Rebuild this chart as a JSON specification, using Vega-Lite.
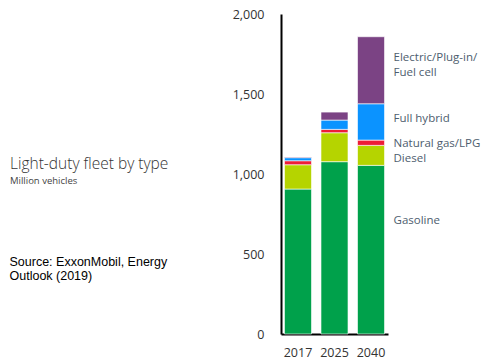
{
  "$schema": "https://vega.github.io/schema/vega-lite/v6.json",
  "width": 107,
  "height": 320,
  "autosize": {"type": "none"},
  "padding": {"left": 281, "top": 14, "right": 101, "bottom": 26},
  "background": "white",
  "config": {"view": {"stroke": null}, "font": "Open Sans"},
  "title": {
    "text": "Light-duty fleet by type",
    "subtitle": "Million vehicles",
    "anchor": "start",
    "frame": "group",
    "orient": "top",
    "dx": -271,
    "dy": 181,
    "font": "Open Sans",
    "fontSize": 15.5,
    "fontWeight": 300,
    "color": "#333333",
    "subtitleFont": "Open Sans",
    "subtitleFontSize": 9.5,
    "subtitleColor": "#444444",
    "subtitlePadding": 3
  },
  "data": {
    "values": [
      {"year": "2017", "type": "Gasoline", "value": 906},
      {"year": "2017", "type": "Diesel", "value": 152},
      {"year": "2017", "type": "Natural gas/LPG", "value": 25},
      {"year": "2017", "type": "Full hybrid", "value": 19},
      {"year": "2017", "type": "Electric/Plug-in/Fuel cell", "value": 4},
      {"year": "2025", "type": "Gasoline", "value": 1077},
      {"year": "2025", "type": "Diesel", "value": 181},
      {"year": "2025", "type": "Natural gas/LPG", "value": 21},
      {"year": "2025", "type": "Full hybrid", "value": 58},
      {"year": "2025", "type": "Electric/Plug-in/Fuel cell", "value": 50},
      {"year": "2040", "type": "Gasoline", "value": 1054},
      {"year": "2040", "type": "Diesel", "value": 125},
      {"year": "2040", "type": "Natural gas/LPG", "value": 33},
      {"year": "2040", "type": "Full hybrid", "value": 227},
      {"year": "2040", "type": "Electric/Plug-in/Fuel cell", "value": 419}
    ]
  },
  "transform": [
    {"calculate": "indexof(['Gasoline','Diesel','Natural gas/LPG','Full hybrid','Electric/Plug-in/Fuel cell'], datum.type)", "as": "rank"}
  ],
  "encoding": {
    "x": {
      "field": "year",
      "type": "ordinal",
      "scale": {"paddingInner": 0.26, "paddingOuter": 0.095},
      "axis": {
        "title": null,
        "labelAngle": 0,
        "ticks": false,
        "labelPadding": 12,
        "labelFontSize": 12.5,
        "labelColor": "#333333",
        "domainColor": "#000000",
        "domainWidth": 2
      }
    }
  },
  "layer": [
    {
      "mark": {"type": "bar", "stroke": "white", "strokeWidth": 1, "strokeOpacity": 0.6},
      "encoding": {
        "y": {
          "field": "value",
          "type": "quantitative",
          "aggregate": "sum",
          "stack": "zero",
          "scale": {"domain": [0, 2000]},
          "axis": {
            "values": [0, 500, 1000, 1500, 2000],
            "format": ",.0f",
            "grid": false,
            "ticks": false,
            "labelPadding": 17,
            "labelFontSize": 12.5,
            "labelColor": "#333333",
            "domainColor": "#000000",
            "domainWidth": 2,
            "title": ["Source: ExxonMobil, Energy", "Outlook (2019)"],
            "titleX": -272,
            "titleY": 251,
            "titleAngle": 0,
            "titleAlign": "left",
            "titleBaseline": "alphabetic",
            "titleFont": "Liberation Sans",
            "titleFontSize": 12.5,
            "titleFontWeight": "normal",
            "titleColor": "#000000",
            "titleLineHeight": 14.5
          }
        },
        "color": {
          "field": "type",
          "type": "nominal",
          "scale": {
            "domain": ["Gasoline", "Diesel", "Natural gas/LPG", "Full hybrid", "Electric/Plug-in/Fuel cell"],
            "range": ["#00a14b", "#b5d400", "#ed1c37", "#0b93ff", "#7b4384"]
          },
          "legend": null
        },
        "order": {"field": "rank", "type": "quantitative"}
      }
    },
    {
      "transform": [
        {"filter": "datum.year == '2040'"},
        {"stack": "value", "groupby": ["year"], "sort": [{"field": "rank", "order": "ascending"}], "as": ["v0", "v1"]},
        {"calculate": "(datum.v0 + datum.v1) / 2", "as": "mid"},
        {"calculate": "datum.type == 'Electric/Plug-in/Fuel cell' ? ['Electric/Plug-in/', 'Fuel cell'] : datum.type", "as": "label"}
      ],
      "mark": {
        "type": "text",
        "align": "left",
        "baseline": "middle",
        "dx": 9,
        "dy": {"expr": "datum.type == 'Gasoline' ? -29 : datum.type == 'Diesel' ? 4 : datum.type == 'Natural gas/LPG' ? 1 : datum.type == 'Full hybrid' ? -3 : -12"},
        "fontSize": 11.5,
        "lineHeight": 15,
        "color": "#4d5d6e",
        "font": "Open Sans"
      },
      "encoding": {
        "x": {"field": "year", "type": "ordinal", "bandPosition": 1},
        "y": {"field": "mid", "type": "quantitative"},
        "text": {"field": "label"}
      }
    }
  ]
}
